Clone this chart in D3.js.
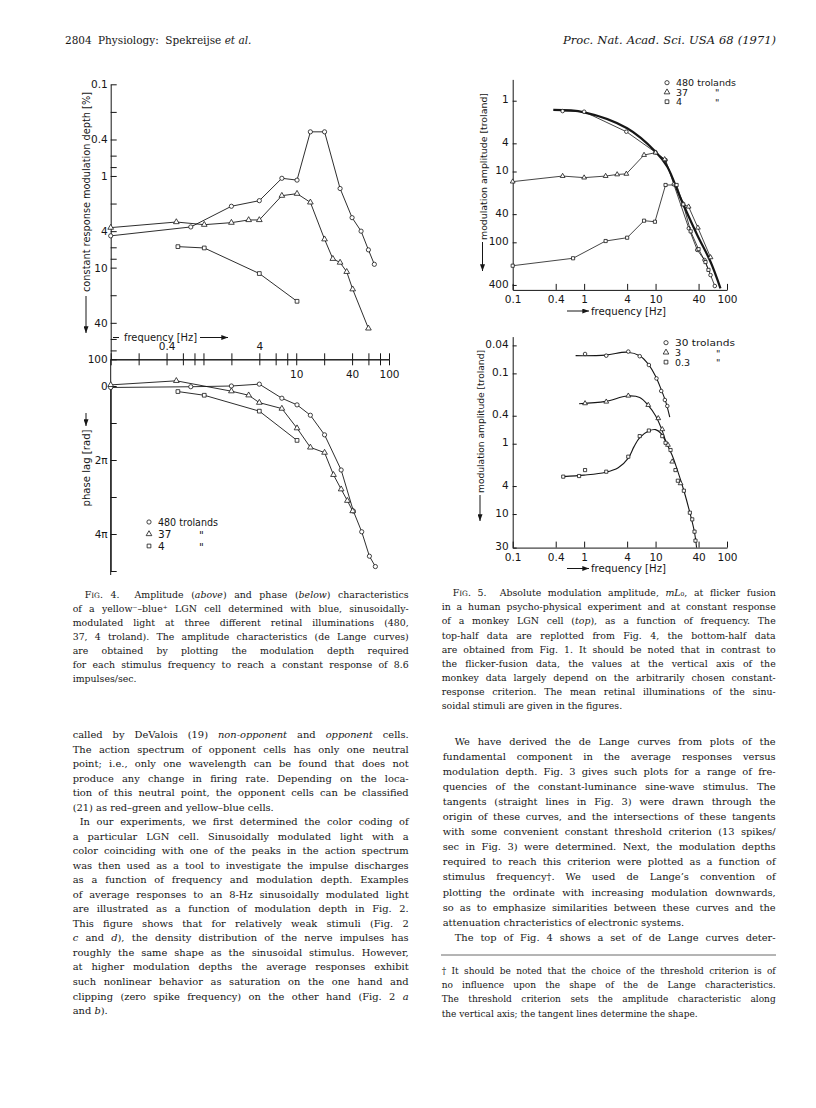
<!DOCTYPE html>
<html>
<head>
<meta charset="utf-8">
<title>Spekreijse et al. 1971, p. 2804</title>
<script src="https://cdn.jsdelivr.net/npm/d3@7"></script>
<style>
  body { margin: 0; background: #fff; }
  svg { display: block; }
</style>
</head>
<body>
<svg id="page" width="816" height="1108"></svg>
<script>
// ---------- Fig. 4 data (frequency in Hz) ----------
const fig4Ticks = [0.1, 0.2, 0.4, 0.6, 0.8, 1, 2, 4, 6, 8, 10, 20, 40, 60, 80, 100];
const depthLabels = [0.1, 0.4, 1, 4, 10, 40, 100];
const freqLabelsAbove = [0.4, 4];
const freqLabelsBelow = [10, 40, 100];
const phaseTicks = [0, 1, 2, 3, 4, 5];   // multiples of pi
const phaseLabels = [0, 2, 4];

// constant response modulation depth [%]
const depth480 = [[0.1, 4.5], [0.73, 3.6], [2.0, 2.14], [4.0, 1.86], [7.0, 1.06], [10.2, 1.11], [14.2, 0.33], [20.2, 0.33], [29.7, 1.37], [40, 2.85], [50, 4.0], [60, 6.4], [69.5, 9.2]];
const depth37 = [[0.1, 3.66], [0.51, 3.18], [1.02, 3.4], [2.0, 3.23], [3.07, 3.02], [4.0, 3.02], [7.0, 1.64], [10.2, 1.56], [14.2, 1.94], [20.2, 4.9], [24.8, 8.0], [29.7, 8.8], [35, 11.1], [40.6, 17.2], [60, 46]];
const depth4 = [[0.53, 5.9], [1.02, 6.1], [4.0, 11.6], [10.2, 23.3]];

// phase lag [rad / pi]
const phase480 = [[0.1, 0.04], [0.73, 0.02], [2.0, 0], [4.0, -0.05], [7.0, 0.33], [10.2, 0.51], [14.2, 0.79], [20.2, 1.32], [30.5, 2.27], [41.3, 3.38], [50.8, 3.94], [61.5, 4.6], [71.3, 4.88]];
const phase37 = [[0.1, -0.03], [0.51, -0.14], [2.0, 0.14], [3.07, 0.25], [4.0, 0.45], [7.0, 0.61], [10.2, 1.14], [14.2, 1.66], [20.2, 1.8], [25.2, 2.4], [30.5, 2.79], [35.6, 3.1], [40.6, 3.38]];
const phase4 = [[0.53, 0.15], [1.02, 0.25], [4.0, 0.68], [10.2, 1.47]];

const fig4Legend = ['480 trolands', '37', '4'];

// ---------- Fig. 5 data ----------
const fig5Freq = [0.1, 0.4, 1, 4, 10, 40, 100];
const monkeyAmpLabels = [1, 4, 10, 40, 100, 400];
const humanAmpLabels = [0.04, 0.1, 0.4, 1, 4, 10, 30];

// monkey LGN (top) modulation amplitude [troland]
const monkeyFit = [[0.37, 1.35], [1.0, 1.46], [4.0, 2.45], [10, 5.25], [14.6, 8.55], [22.4, 23.9], [38.3, 78.9], [58.8, 188], [81, 446]];
const monkey480 = [[0.5, 1.4], [1.0, 1.43], [3.9, 2.74], [10, 5.36], [13.8, 6.88], [18, 15.2], [29.2, 63.4], [38.3, 128], [48.4, 178], [58.8, 290], [67.5, 414]];
const monkey37 = [[0.1, 13.9], [0.5, 11.6], [1.0, 12.2], [2.0, 11.6], [2.9, 11.0], [3.9, 10.8], [6.9, 5.85], [10, 5.42], [13.4, 6.73], [24.4, 29.1], [29, 31.4], [39.1, 62.2], [58.8, 163]];
const monkey4 = [[0.1, 214], [0.7, 168], [2.0, 95.9], [4.0, 86.1], [6.9, 49.5], [9.8, 51.2], [13.8, 15.5], [19.7, 15.5], [24.4, 29.1], [31, 70], [40, 125], [50, 190], [55, 245]];
const monkeyLegend = ['480 trolands', '37', '4'];

// human flicker fusion (bottom): measured points and drawn curves
const human30 = [[1.03, 0.053], [2.04, 0.056], [4.15, 0.049], [6.0, 0.057], [8.06, 0.076], [10.3, 0.118], [12.0, 0.178], [13.5, 0.239], [14.6, 0.291]];
const human3 = [[1.03, 0.267], [2.04, 0.253], [4.15, 0.208], [7.9, 0.282], [10.9, 0.435], [12.4, 0.624], [14.9, 1.04], [17.1, 1.8], [22.4, 3.66]];
const human03 = [[0.51, 2.94], [0.85, 2.88], [1.03, 2.37], [2.04, 2.5], [4.15, 1.53], [6.0, 0.78], [8.06, 0.65], [12.4, 0.78], [13.8, 0.97], [16.2, 1.23], [19, 2.37], [20.5, 3.36], [24.9, 4.66], [30.2, 9.57], [32.6, 11.9], [35.1, 17.8], [36.2, 23.9]];
const human30Curve = [[0.76, 0.056], [2, 0.055], [4, 0.05], [6, 0.056], [8, 0.075], [10, 0.11], [12, 0.17], [14, 0.26], [15.8, 0.42]];
const human3Curve = [[0.85, 0.27], [2, 0.25], [4, 0.21], [6, 0.22], [8, 0.29], [10, 0.4], [12, 0.6], [14, 0.95]];
const human03Curve = [[0.51, 2.94], [1, 2.8], [2, 2.55], [3, 2.2], [4.15, 1.6], [5, 1.1], [6, 0.82], [8, 0.66], [10, 0.63], [12, 0.72], [14, 0.95], [17, 1.45], [20, 2.3], [25, 4.7], [30, 9.3], [35, 18], [37.5, 30]];
const humanLegend = ['30 trolands', '3', '0.3'];

// ---------- page text ----------
const headLeft = ['2804', 'Physiology:  Spekreijse _et al._'];
const headRight = '_Proc. Nat. Acad. Sci. USA 68 (1971)_';

const caption4 = [
  '>F^ig^. 4.  Amplitude (_above_) and phase (_below_) characteristics',
  'of a yellow⁻–blue⁺ LGN cell determined with blue, sinusoidally-',
  'modulated light at three different retinal illuminations (480,',
  '37, 4 troland). The amplitude characteristics (de Lange curves)',
  'are obtained by plotting the modulation depth required',
  'for each stimulus frequency to reach a constant response of 8.6',
  'impulses/sec.$'
];
const caption5 = [
  '>F^ig^. 5.  Absolute modulation amplitude, _mL_₀, at flicker fusion',
  'in a human psycho-physical experiment and at constant response',
  'of a monkey LGN cell (_top_), as a function of frequency. The',
  'top-half data are replotted from Fig. 4, the bottom-half data',
  'are obtained from Fig. 1. It should be noted that in contrast to',
  'the flicker-fusion data, the values at the vertical axis of the',
  'monkey data largely depend on the arbitrarily chosen constant-',
  'response criterion. The mean retinal illuminations of the sinu-',
  'soidal stimuli are given in the figures.$'
];
const leftColumn = [
  'called by DeValois (19) _non-opponent_ and _opponent_ cells.',
  'The action spectrum of opponent cells has only one neutral',
  'point; i.e., only one wavelength can be found that does not',
  'produce any change in firing rate. Depending on the loca-',
  'tion of this neutral point, the opponent cells can be classified',
  '(21) as red–green and yellow–blue cells.$',
  '>In our experiments, we first determined the color coding of',
  'a particular LGN cell. Sinusoidally modulated light with a',
  'color coinciding with one of the peaks in the action spectrum',
  'was then used as a tool to investigate the impulse discharges',
  'as a function of frequency and modulation depth. Examples',
  'of average responses to an 8-Hz sinusoidally modulated light',
  'are illustrated as a function of modulation depth in Fig. 2.',
  'This figure shows that for relatively weak stimuli (Fig. 2',
  '_c_ and _d_), the density distribution of the nerve impulses has',
  'roughly the same shape as the sinusoidal stimulus. However,',
  'at higher modulation depths the average responses exhibit',
  'such nonlinear behavior as saturation on the one hand and',
  'clipping (zero spike frequency) on the other hand (Fig. 2 _a_',
  'and _b_).$'
];
const rightColumn = [
  '>We have derived the de Lange curves from plots of the',
  'fundamental component in the average responses versus',
  'modulation depth. Fig. 3 gives such plots for a range of fre-',
  'quencies of the constant-luminance sine-wave stimulus. The',
  'tangents (straight lines in Fig. 3) were drawn through the',
  'origin of these curves, and the intersections of these tangents',
  'with some convenient constant threshold criterion (13 spikes/',
  'sec in Fig. 3) were determined. Next, the modulation depths',
  'required to reach this criterion were plotted as a function of',
  'stimulus frequency†. We used de Lange\u2019s convention of',
  'plotting the ordinate with increasing modulation downwards,',
  'so as to emphasize similarities between these curves and the',
  'attenuation chracteristics of electronic systems.$',
  '>The top of Fig. 4 shows a set of de Lange curves deter-'
];
const footnote = [
  '† It should be noted that the choice of the threshold criterion is of',
  'no influence upon the shape of the de Lange characteristics.',
  'The threshold criterion sets the amplitude characteristic along',
  'the vertical axis; the tangent lines determine the shape.$'
];

// ---------- drawing ----------
const ink = '#161616';
const plotFont = '"DejaVu Sans", sans-serif';
const textFont = '"DejaVu Serif", serif';
const page = d3.select('#page');
const symbols = { c: d3.symbolCircle, t: d3.symbolTriangle, s: d3.symbolSquare };
const shapes = ['c', 't', 's'];

page.append('defs').append('marker')
    .attr('id', 'arr').attr('viewBox', '0 0 8 6').attr('refX', 8).attr('refY', 3)
    .attr('markerUnits', 'userSpaceOnUse').attr('markerWidth', 7).attr('markerHeight', 5)
    .attr('orient', 'auto')
    .append('path').attr('d', 'M0,0L8,3L0,6Z').attr('fill', ink);

function styleAxis(g, size) {
    g.attr('font-family', plotFont).attr('font-size', size || 10.5);
    g.selectAll('path, line').attr('stroke', ink).attr('stroke-width', 1);
    g.selectAll('text').attr('fill', ink);
}

function dots(g, data, x, y, shape, size) {
    g.append('g').selectAll('path').data(data).join('path')
        .attr('d', d3.symbol().type(symbols[shape]).size(size))
        .attr('transform', d => `translate(${x(d[0])},${y(d[1])})`)
        .attr('fill', '#fff').attr('stroke', ink).attr('stroke-width', 0.8);
}

function curve(g, data, x, y, width, smooth) {
    g.append('path').datum(data)
        .attr('d', d3.line().x(d => x(d[0])).y(d => y(d[1]))
            .curve(smooth ? d3.curveCatmullRom.alpha(0.5) : d3.curveLinear))
        .attr('fill', 'none').attr('stroke', ink).attr('stroke-width', width)
        .attr('stroke-linejoin', 'round');
}

function label(g, str, x, y, size, opts = {}) {
    const t = g.append('text').attr('x', x).attr('y', y)
        .attr('font-family', plotFont).attr('font-size', size).attr('fill', ink)
        .attr('text-anchor', opts.anchor || 'start').text(str);
    if (opts.len) t.attr('textLength', opts.len).attr('lengthAdjust', 'spacingAndGlyphs');
    if (opts.rotate) t.attr('transform', `rotate(-90,${x},${y})`);
    return t;
}

function arrow(g, x1, y1, x2, y2) {
    g.append('line').attr('x1', x1).attr('y1', y1).attr('x2', x2).attr('y2', y2)
        .attr('stroke', ink).attr('stroke-width', 1).attr('marker-end', 'url(#arr)');
}

function legend(g, names, x, y0, dy, dittoX, size) {
    names.forEach((name, i) => {
        const y = y0 + i * dy;
        dots(g, [[0, 0]], () => x, () => y, shapes[i], 14);
        label(g, name, x + 9, y + size * 0.37, size, { len: i === 0 ? 60 : null });
        if (i > 0) label(g, '"', dittoX, y + size * 0.45, size);
    });
}

// ---------- Fig. 4 ----------
const fig4 = page.append('g');
const x4 = d3.scaleLog().domain([0.1, 100]).range([110.7, 389]);
const yDepth = d3.scaleLog().domain([0.1, 100]).range([84.3, 359.3]);
const yPhase = d3.scaleLinear().domain([0, 5]).range([386, 571]);

fig4.append('g').attr('transform', `translate(${x4(0.1)},0)`)
    .call(d3.axisLeft(yDepth).tickValues(fig4Ticks).tickSize(-6).tickSizeOuter(0).tickPadding(3)
        .tickFormat(d => depthLabels.includes(d) ? d : ''))
    .call(styleAxis);

fig4.append('g').attr('transform', `translate(${x4(0.1)},0)`)
    .call(d3.axisLeft(yPhase).tickValues(phaseTicks).tickSize(-6).tickSizeOuter(0).tickPadding(3)
        .tickFormat(d => phaseLabels.includes(d) ? (d === 0 ? '0' : d + 'π') : ''))
    .call(styleAxis);
fig4.append('line').attr('x1', x4(0.1)).attr('x2', x4(0.1))
    .attr('y1', yDepth(100)).attr('y2', yPhase(5) + 4).attr('stroke', ink);

const xAxis4 = fig4.append('g').attr('transform', `translate(0,${yDepth(100)})`);
xAxis4.append('g')
    .call(d3.axisTop(x4).tickValues(fig4Ticks).tickSize(6).tickSizeOuter(0).tickPadding(3)
        .tickFormat(d => freqLabelsAbove.includes(d) ? d : ''))
    .call(styleAxis);
xAxis4.append('g')
    .call(d3.axisBottom(x4).tickValues(fig4Ticks).tickSize(6).tickSizeOuter(0).tickPadding(5)
        .tickFormat(d => freqLabelsBelow.includes(d) ? d : ''))
    .call(styleAxis);

[depth480, depth37, depth4].forEach((data, i) => {
    curve(fig4, data, x4, yDepth, 0.9, false);
    dots(fig4, data, x4, yDepth, shapes[i], 14);
});
[phase480, phase37, phase4].forEach((data, i) => {
    curve(fig4, data, x4, yPhase, 0.9, false);
    dots(fig4, data, x4, yPhase, shapes[i], 14);
});

label(fig4, 'constant response modulation depth [%]', 89.5, 192, 10, { anchor: 'middle', len: 200, rotate: true });
arrow(fig4, 86, 296, 86, 333);
label(fig4, 'phase lag [rad]', 89.5, 468, 10, { anchor: 'middle', len: 77, rotate: true });
arrow(fig4, 86, 413, 86, 426);
fig4.append('line').attr('x1', 113).attr('x2', 119).attr('y1', 337.5).attr('y2', 337.5).attr('stroke', ink);
label(fig4, 'frequency [Hz]', 124, 340.5, 10, { len: 73 });
arrow(fig4, 200, 337.5, 228, 337.5);
legend(fig4, fig4Legend, 149, 522, 12, 199, 10.5);

// ---------- Fig. 5 ----------
const fig5 = page.append('g');
const x5 = d3.scaleLog().domain([0.1, 100]).range([512.7, 727]);
const yMonkey = d3.scaleLog().domain([0.5, 470]).range([79.4, 289.9]);
const yHuman = d3.scaleLog().domain([0.03, 30]).range([336.6, 547.6]);

function fig5Axes(y, labels) {
    fig5.append('g').attr('transform', `translate(${x5(0.1)},0)`)
        .call(d3.axisLeft(y).tickValues(labels).tickSize(-4).tickSizeOuter(0).tickPadding(4)
            .tickFormat(d => d))
        .call(styleAxis)
        .call(g => g.selectAll('text').attr('dy', '0.2em'));
    fig5.append('g').attr('transform', `translate(0,${y.range()[1]})`)
        .call(d3.axisBottom(x5).tickValues(fig5Freq).tickSize(-6).tickSizeOuter(0).tickPadding(6)
            .tickFormat(d => d))
        .call(styleAxis);
}
fig5Axes(yMonkey, monkeyAmpLabels);
fig5Axes(yHuman, humanAmpLabels);

// top: monkey
curve(fig5, monkeyFit, x5, yMonkey, 2.2, true);
[monkey480, monkey37, monkey4].forEach((data, i) => {
    curve(fig5, data, x5, yMonkey, 0.8, false);
    dots(fig5, data, x5, yMonkey, shapes[i], 10);
});
legend(fig5, monkeyLegend, 667, 82.7, 9.5, 715, 9.5);
label(fig5, 'modulation amplitude [troland]', 486.5, 166.5, 9.5, { anchor: 'middle', len: 147, rotate: true });
arrow(fig5, 482.5, 242, 482.5, 271);
arrow(fig5, 567, 311, 589, 311);
label(fig5, 'frequency [Hz]', 591, 314.5, 10, { len: 75 });

// bottom: human
[human30Curve, human3Curve, human03Curve].forEach(data => curve(fig5, data, x5, yHuman, 1.1, true));
[human30, human3, human03].forEach((data, i) => dots(fig5, data, x5, yHuman, shapes[i], 10));
legend(fig5, humanLegend, 666, 342.7, 9.7, 716, 9.5);
label(fig5, 'modulation amplitude [troland]', 483.5, 421.5, 9.5, { anchor: 'middle', len: 143, rotate: true });
arrow(fig5, 480, 495, 480, 521);
arrow(fig5, 567, 568.5, 589, 568.5);
label(fig5, 'frequency [Hz]', 591, 572, 10, { len: 75 });

// ---------- running text ----------
// justified lines get extra word spacing; too-long lines are squeezed
function writeLine(str, x, y, size, width) {
    const t = page.append('text').attr('x', x).attr('y', y)
        .attr('font-family', textFont).attr('font-size', size).attr('fill', ink)
        .style('white-space', 'pre');
    str.split(/(_[^_]+_|\^[^^]+\^)/).filter(p => p).forEach(p => {
        const sp = t.append('tspan');
        if (p[0] === '_') sp.text(p.slice(1, -1)).attr('font-style', 'italic');
        else if (p[0] === '^') sp.text(p.slice(1, -1).toUpperCase()).attr('font-size', size * 0.78);
        else sp.text(p);
    });
    if (width) {
        const natural = t.node().getComputedTextLength();
        const gaps = (str.match(/ /g) || []).length;
        if (natural < width && gaps) t.style('word-spacing', ((width - natural) / gaps) + 'px');
        else t.attr('textLength', width).attr('lengthAdjust', 'spacing');
    }
    return t;
}

function paragraph(lines, x, y, width, lh, size, indent) {
    lines.forEach((raw, i) => {
        let s = raw, ind = 0, justify = true;
        if (s.startsWith('>')) { s = s.slice(1); ind = indent; }
        if (s.endsWith('$')) { s = s.slice(0, -1); justify = false; }
        writeLine(s, x + ind, y + i * lh, size, justify ? width - ind : null);
    });
}

writeLine(headLeft[0], 65, 44, 10.5);
writeLine(headLeft[1], 98, 44, 10.5);
writeLine(headRight, 563, 44, 11.5, 213);

paragraph(caption4, 72.7, 597.5, 336, 14.05, 9.4, 12);
paragraph(caption5, 441.7, 596.2, 334, 14.13, 9.4, 11);
paragraph(leftColumn, 72.7, 738, 336, 14.53, 9.9, 7);
paragraph(rightColumn, 442.7, 744.5, 333, 15.1, 9.9, 12);
page.append('line').attr('x1', 441).attr('x2', 776).attr('y1', 955).attr('y2', 955)
    .attr('stroke', '#444').attr('stroke-width', 0.8);
paragraph(footnote, 441.7, 974, 334, 14.2, 9.0, 0);
</script>
</body>
</html>
